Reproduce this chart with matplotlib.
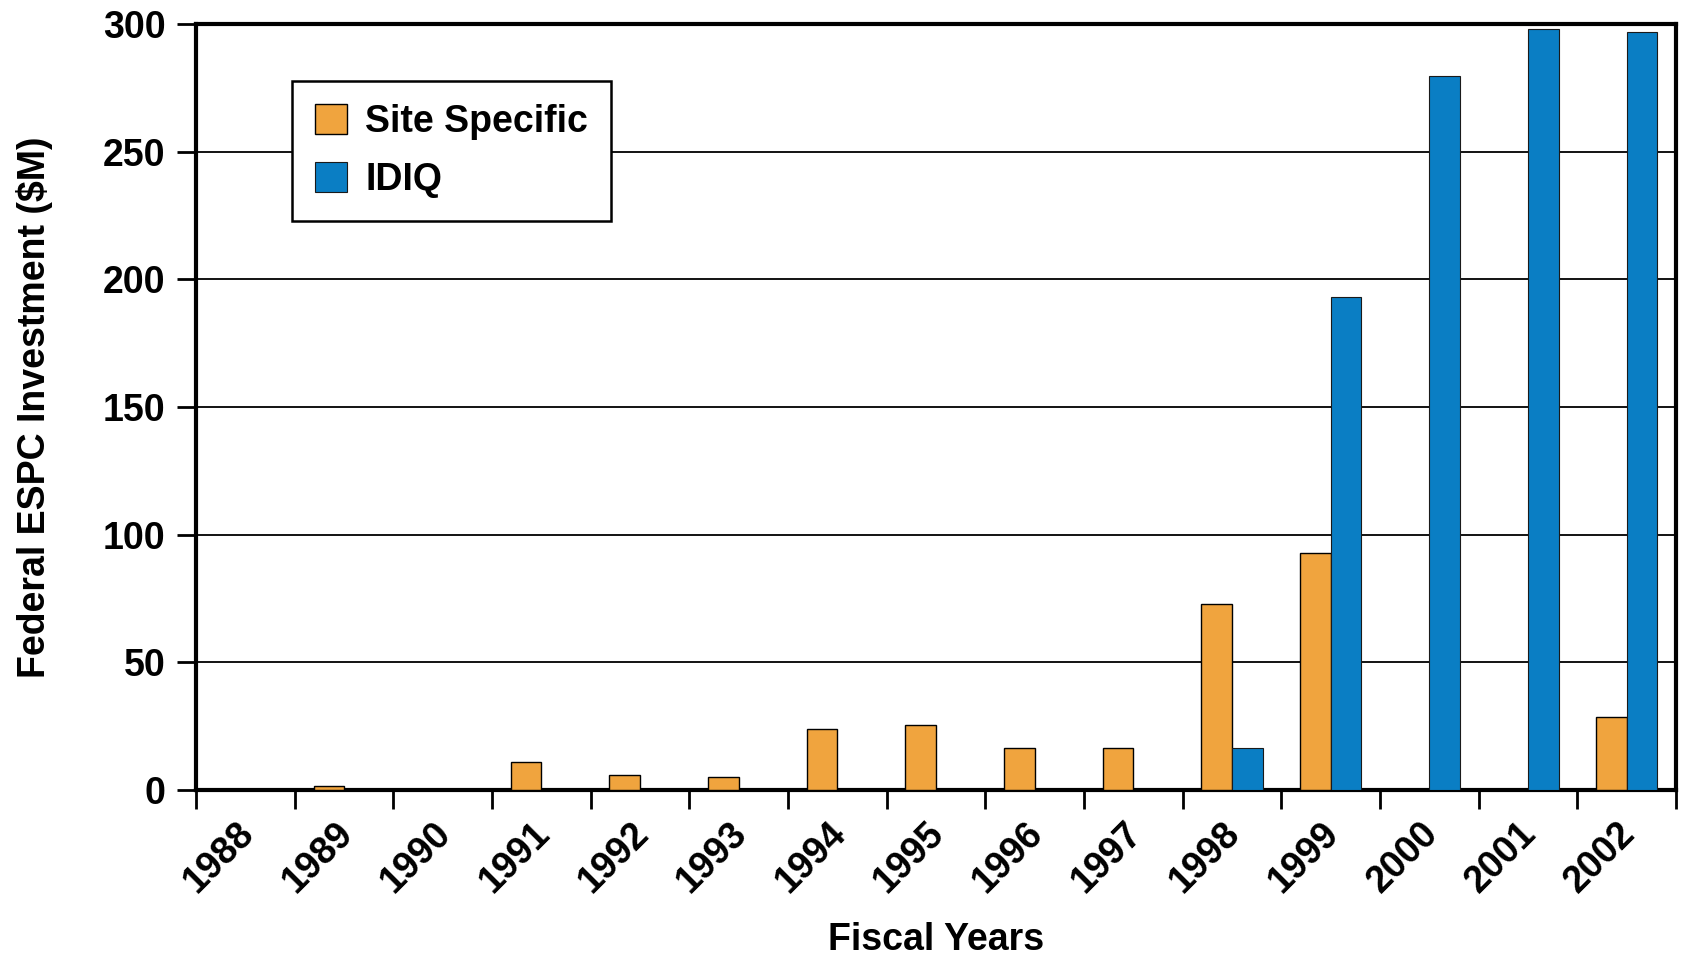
import numpy as np
import matplotlib.pyplot as plt
from matplotlib.ticker import FixedLocator

plt.rcParams['font.family'] = ['Liberation Sans', 'DejaVu Sans']
plt.rcParams['font.weight'] = 'bold'

# --- donnees ---
annees = ["1988", "1989", "1990", "1991", "1992", "1993", "1994", "1995",
          "1996", "1997", "1998", "1999", "2000", "2001", "2002"]
site_specific = [0, 1.5, 0, 11, 6, 5, 24, 25.5, 16.5, 16.5, 73, 93, 0, 0, 28.5]
idiq = [0, 0, 0, 0, 0, 0, 0, 0, 0, 0, 16.5, 193, 279.5, 298, 297]

orange = "#F0A43E"
bleu = "#0A7EC4"
fs = 27

fig = plt.figure(figsize=(16.82, 9.57), dpi=100)
ax = fig.add_axes([0.1166, 0.1745, 0.8798, 0.8005])

x = np.arange(len(annees))
w = 0.31
ax.bar(x - w / 2, site_specific, w, color=orange, edgecolor="black",
       linewidth=1.0, label="Site Specific", zorder=3)
ax.bar(x + w / 2, idiq, w, color=bleu, edgecolor="#1a1a1a",
       linewidth=0.8, label="IDIQ", zorder=3)

ax.set_xlim(-0.5, len(annees) - 0.5)
ax.set_ylim(0, 300)
ax.set_yticks(np.arange(0, 301, 50))
ax.yaxis.grid(True, color="black", linewidth=1.3, zorder=0)
ax.set_axisbelow(True)

# graduations aux limites des groupes, etiquettes au centre
ax.xaxis.set_major_locator(FixedLocator(np.arange(-0.5, len(annees), 1.0)))
ax.xaxis.set_major_formatter(plt.NullFormatter())
ax.xaxis.set_minor_locator(FixedLocator(x - 0.1))
ax.set_xticklabels(annees, minor=True, rotation=45, ha="right",
                   rotation_mode="anchor", fontsize=fs, fontweight="bold")
ax.tick_params(axis="x", which="minor", length=0, pad=18)
ax.tick_params(axis="x", which="major", length=14, width=2, direction="out")
ax.tick_params(axis="y", length=14, width=2, direction="out", labelsize=fs, pad=8)
for lab in ax.get_yticklabels():
    lab.set_fontweight("bold")

for s in ax.spines.values():
    s.set_linewidth(3)
    s.set_color("black")

ax.set_ylabel("Federal ESPC Investment ($M)", fontsize=fs, fontweight="bold")
ax.set_xlabel("Fiscal Years", fontsize=fs, fontweight="bold")
ax.yaxis.set_label_coords(-0.097, 0.5)
ax.xaxis.set_label_coords(0.5, -0.172)

leg = ax.legend(loc="upper left", bbox_to_anchor=(0.065, 0.925), fontsize=fs,
                frameon=True, fancybox=False, edgecolor="black",
                handlelength=0.85, handleheight=0.85, handletextpad=0.5,
                borderpad=0.6, labelspacing=0.6, borderaxespad=0)
leg.get_frame().set_linewidth(1.8)
leg.get_frame().set_alpha(1)
leg.set_zorder(5)
for t in leg.get_texts():
    t.set_fontweight("bold")

fig.savefig("out.png", dpi=100)
